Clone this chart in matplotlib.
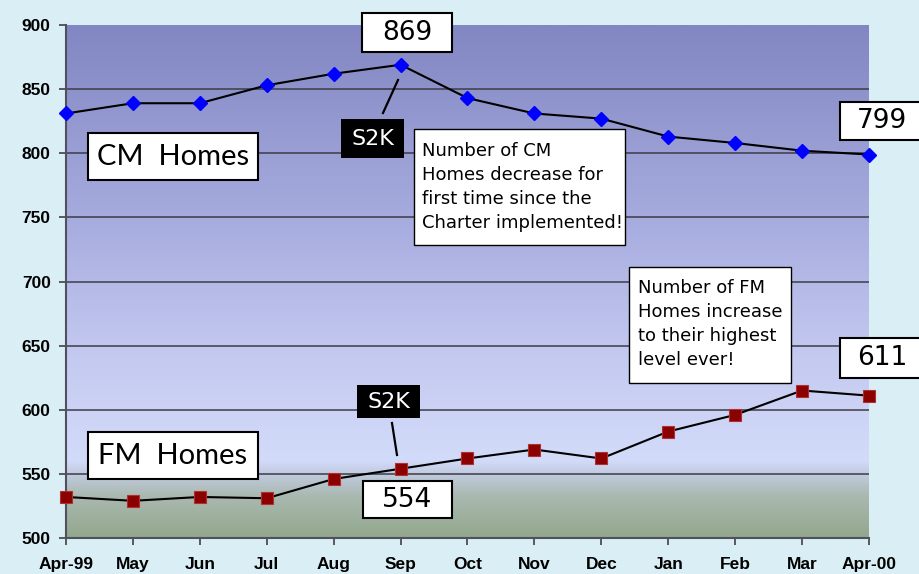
import matplotlib
matplotlib.use("Agg")
import matplotlib.pyplot as plt
import numpy as np
from matplotlib.colors import LinearSegmentedColormap
from matplotlib.patches import Rectangle
from matplotlib.lines import Line2D

# data
months = ["Apr-99", "May", "Jun", "Jul", "Aug", "Sep", "Oct", "Nov", "Dec",
          "Jan", "Feb", "Mar", "Apr-00"]
cm_homes = [831, 839, 839, 853, 862, 869, 843, 831, 827, 813, 808, 802, 799]
fm_homes = [532, 529, 532, 531, 546, 554, 562, 569, 562, 583, 596, 615, 611]

NARROW = ["Liberation Sans Narrow", "DejaVu Sans"]
BG = "#d9eef5"
W, H = 920, 574

fig = plt.figure(figsize=(9.2, 5.74), dpi=100, facecolor=BG)
ax = fig.add_axes([66 / W, 36 / H, 803 / W, 513 / H])
ax.set_facecolor(BG)

x = np.arange(len(months))
ax.set_xlim(0, len(months) - 1)
ax.set_ylim(500, 900)

# gradient plot background (value = y position)
stops = [(0.0, "#93a78c"), (0.08, "#a9b9b0"), (0.125, "#c2cbe0"),
         (0.15, "#d3dbfa"), (0.35, "#c4caf0"), (0.6, "#a9aee0"),
         (1.0, "#8286c2")]
cmap = LinearSegmentedColormap.from_list("bg", stops)
grad = np.linspace(0, 1, 256).reshape(-1, 1)
ax.imshow(grad, cmap=cmap, origin="lower", aspect="auto",
          extent=[0, len(months) - 1, 500, 900], zorder=0)

# grid
for v in range(550, 900, 50):
    ax.axhline(v, color="#3c3c48", lw=1.1, zorder=1)

ax.plot(x, cm_homes, color="black", lw=1.5, marker="D", ms=7,
        mfc="#0000ff", mec="#0000ff", zorder=3, clip_on=False)
ax.plot(x, fm_homes, color="black", lw=1.5, marker="s", ms=8.5,
        mfc="#8b0000", mec="#b03030", mew=0.8, zorder=3, clip_on=False)

ax.set_xticks(x)
ax.set_xticklabels(months)
ax.set_yticks(range(500, 901, 50))
for lab in ax.get_xticklabels() + ax.get_yticklabels():
    lab.set_fontfamily("Liberation Sans")
    lab.set_fontweight("bold")
    lab.set_fontsize(12.5)
ax.tick_params(axis="both", colors="#404040", labelcolor="black",
               length=5, width=1.2)
ax.tick_params(axis="x", pad=9)
ax.tick_params(axis="y", pad=6)
for s in ["top", "right"]:
    ax.spines[s].set_visible(False)
for s in ["left", "bottom"]:
    ax.spines[s].set_color("#505060")
    ax.spines[s].set_linewidth(1.5)


# annotation helpers, in figure pixels measured from top-left
def box(x0, y0, x1, y1, fc="white", lw=1.5):
    fig.add_artist(Rectangle((x0 / W, 1 - y1 / H), (x1 - x0) / W, (y1 - y0) / H,
                             transform=fig.transFigure, fc=fc, ec="black",
                             lw=lw, zorder=10))


def label(px, py, txt, **kw):
    fig.text(px / W, 1 - py / H, txt, zorder=11, **kw)


def seg(x0, y0, x1, y1):
    fig.add_artist(Line2D([x0 / W, x1 / W], [1 - y0 / H, 1 - y1 / H],
                          transform=fig.transFigure, color="black", lw=1.6,
                          zorder=9))


# series labels
for top, txt in [(133, "CM  Homes"), (432, "FM  Homes")]:
    box(88, top, 258, top + 47)
    label(173, top + 24, txt, fontsize=21, family=["Lato", "DejaVu Sans"],
          ha="center", va="center")

# value call-outs
box(362, 13, 452, 52)
label(407, 33, str(cm_homes[5]), fontsize=19, family=NARROW,
      ha="center", va="center")
box(363, 481, 452, 518)
label(407.5, 500, str(fm_homes[5]), fontsize=19, family=NARROW,
      ha="center", va="center")
box(840, 102, 930, 140)
label(882, 121, str(cm_homes[-1]), fontsize=19, family=NARROW,
      ha="center", va="center")
box(840, 338, 930, 378)
label(882, 358, str(fm_homes[-1]), fontsize=19, family=NARROW,
      ha="center", va="center")

# S2K markers
box(341, 119, 404, 158, fc="black", lw=0)
label(372.5, 139, "S2K", fontsize=16, family=NARROW, color="white",
      ha="center", va="center")
box(357, 385, 420, 418, fc="black", lw=0)
label(388.5, 402, "S2K", fontsize=16, family=NARROW, color="white",
      ha="center", va="center")
seg(383, 113, 398, 80)
seg(392, 423, 397, 455)

# notes
box(414, 129, 625, 245, lw=1)
label(422, 187,
      "Number of CM\nHomes decrease for\nfirst time since the\nCharter implemented!",
      fontsize=13, family=NARROW, ha="left", va="center", linespacing=1.45)
box(629, 267, 791, 383, lw=1)
label(638, 324,
      "Number of FM\nHomes increase\nto their highest\nlevel ever!",
      fontsize=13, family=NARROW, ha="left", va="center", linespacing=1.45)

fig.savefig("out.png", dpi=100, facecolor=BG)
